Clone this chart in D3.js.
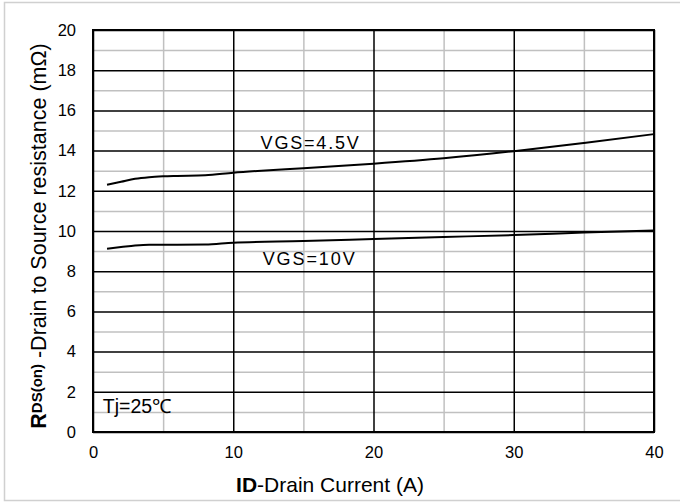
<!DOCTYPE html>
<html>
<head>
<meta charset="utf-8">
<script src="https://cdn.jsdelivr.net/npm/d3@7"></script>
<style>
  body { margin: 0; background: #fff; }
  svg text { font-family: 'Liberation Sans', Arial, sans-serif; fill: #000; }
</style>
</head>
<body>
<svg width="680" height="502"></svg>
<script>
// curve data
const idVgs45 = [1, 2, 3, 4, 5, 6, 8, 10, 12, 15, 20, 25, 30, 35, 40];
const rdsVgs45 = [12.3, 12.45, 12.6, 12.68, 12.72, 12.74, 12.77, 12.9, 13.0, 13.12, 13.35, 13.62, 13.97, 14.38, 14.82];
const idVgs10 = [1, 2, 3, 4, 6, 8, 10, 15, 20, 25, 30, 35, 40];
const rdsVgs10 = [9.12, 9.2, 9.28, 9.32, 9.32, 9.33, 9.42, 9.5, 9.6, 9.7, 9.8, 9.92, 10.03];
const xTicks = [0, 10, 20, 30, 40];
const yTicks = [0, 2, 4, 6, 8, 10, 12, 14, 16, 18, 20];

const svg = d3.select('svg');
const width = +svg.attr('width');
const height = +svg.attr('height');

const margin = { top: 30, right: 26, bottom: 70, left: 93 };
const innerWidth = width - margin.left - margin.right;
const innerHeight = height - margin.top - margin.bottom;
const fontFam = "'Liberation Sans', Arial, sans-serif";

// outer frame
svg.append('rect')
  .attr('x', 4.5).attr('y', 2.5)
  .attr('width', width).attr('height', height - 4)
  .attr('fill', 'none').attr('stroke', '#d0d0d0').attr('stroke-width', 1.5);

const xScale = d3.scaleLinear().domain([0, 40]).range([0, innerWidth]);
const yScale = d3.scaleLinear().domain([0, 20]).range([innerHeight, 0]);

const g = svg.append('g')
  .attr('transform', `translate(${margin.left},${margin.top})`);

// minor grid (gray)
g.append('g').call(d3.axisBottom(xScale).tickValues([5, 15, 25, 35]).tickSize(-innerHeight).tickFormat(''))
  .attr('transform', `translate(0,${innerHeight})`)
  .call(a => a.select('.domain').remove())
  .selectAll('line').attr('stroke', '#c0c0c0').attr('stroke-width', 1.5);
g.append('g').call(d3.axisLeft(yScale).tickValues(d3.range(1, 20, 2)).tickSize(-innerWidth).tickFormat(''))
  .call(a => a.select('.domain').remove())
  .selectAll('line').attr('stroke', '#c0c0c0').attr('stroke-width', 1.5);

// major grid + labels
const yAxisG = g.append('g').call(d3.axisLeft(yScale).tickValues(yTicks).tickSize(-innerWidth).tickPadding(17));
yAxisG.select('.domain').remove();
yAxisG.selectAll('line').attr('stroke', '#000').attr('stroke-width', 1.5);
yAxisG.selectAll('text').attr('font-size', 16.5).style('font-family', fontFam);

const xAxisG = g.append('g').call(d3.axisBottom(xScale).tickValues(xTicks).tickSize(-innerHeight).tickPadding(14))
  .attr('transform', `translate(0,${innerHeight})`);
xAxisG.select('.domain').remove();
xAxisG.selectAll('line').attr('stroke', '#000').attr('stroke-width', 1.5);
xAxisG.selectAll('text').attr('font-size', 16.5).style('font-family', fontFam);

// plot border
g.append('rect')
  .attr('width', innerWidth).attr('height', innerHeight)
  .attr('fill', 'none').attr('stroke', '#000').attr('stroke-width', 2);

// curves
const line = d3.line()
  .x(d => xScale(d[0]))
  .y(d => yScale(d[1]))
  .curve(d3.curveMonotoneX);

g.append('path')
  .datum(d3.zip(idVgs45, rdsVgs45))
  .attr('d', line).attr('fill', 'none').attr('stroke', '#000').attr('stroke-width', 2);
g.append('path')
  .datum(d3.zip(idVgs10, rdsVgs10))
  .attr('d', line).attr('fill', 'none').attr('stroke', '#000').attr('stroke-width', 2);

// curve labels
g.append('text').attr('x', xScale(11.95)).attr('y', yScale(14.1))
  .attr('font-size', 18).attr('letter-spacing', 1.8).text('VGS=4.5V');
g.append('text').attr('x', xScale(12.1)).attr('y', yScale(8.3))
  .attr('font-size', 18).attr('letter-spacing', 1.9).text('VGS=10V');
g.append('text').attr('x', xScale(0.7)).attr('y', yScale(0.93))
  .attr('font-size', 19.5).text('Tj=25℃');

// x axis title
const xt = svg.append('text')
  .attr('x', 330)
  .attr('y', 492)
  .attr('text-anchor', 'middle')
  .attr('font-size', 21);
xt.append('tspan').attr('font-weight', 'bold').text('ID');
xt.append('tspan').text('-Drain Current (A)');

// y axis title
const yt = svg.append('text')
  .attr('transform', `translate(46,236) rotate(-90)`)
  .attr('text-anchor', 'middle')
  .attr('font-size', 21.5);
yt.append('tspan').attr('font-weight', 'bold').text('R');
yt.append('tspan').attr('font-weight', 'bold').attr('font-size', 15).attr('dy', -4).text('DS(on)');
yt.append('tspan').attr('dy', 4).text(' -Drain to Source resistance (mΩ)');
</script>
</body>
</html>
